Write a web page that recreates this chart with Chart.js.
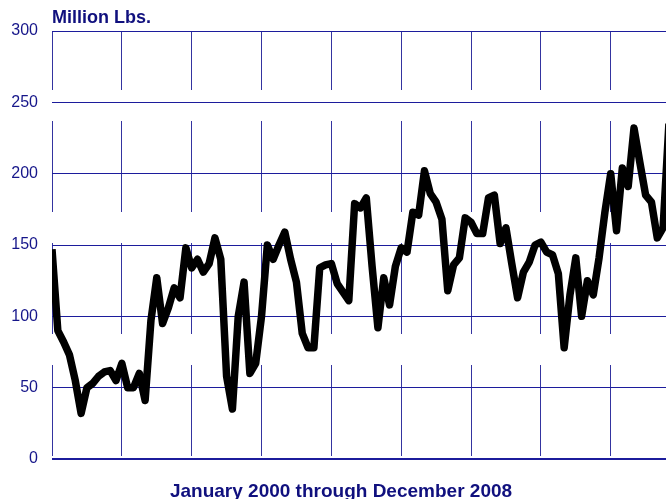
<!DOCTYPE html>
<html>
<head>
<meta charset="utf-8">
<script src="https://cdn.jsdelivr.net/npm/chart.js@4"></script>
<style>
  html, body { margin: 0; padding: 0; background: #ffffff; }
  #wrap { width: 666px; height: 499px; }
</style>
</head>
<body>
<div id="wrap"><canvas id="exports-chart"></canvas></div>
<script>
// Monthly values, million lbs
let y2000 = [147, 90, 82, 73, 55, 32, 50, 53, 58, 61, 62, 55];
let y2001 = [67, 50, 50, 60, 41, 97, 127, 95, 106, 120, 113, 148];
let y2002 = [134, 140, 131, 137, 155, 140, 58, 35, 100, 124, 60, 67];
let y2003 = [100, 150, 140, 150, 159, 140, 124, 88, 78, 78, 134, 136];
let y2004 = [137, 123, 117, 111, 179, 176, 183, 135, 92, 127, 108, 135];
let y2005 = [148, 145, 173, 171, 202, 186, 180, 168, 118, 136, 141, 169];
let y2006 = [166, 158, 158, 183, 185, 151, 162, 137, 113, 131, 138, 150];
let y2007 = [152, 145, 143, 130, 78, 115, 141, 100, 125, 115, 141, 173];
let y2008 = [200, 160, 204, 191, 232, 208, 185, 180, 155, 162, 235, 230];

let years = [2000, 2001, 2002, 2003, 2004, 2005, 2006, 2007, 2008];
let monthNames = ['Jan', 'Feb', 'Mar', 'Apr', 'May', 'Jun', 'Jul', 'Aug', 'Sep', 'Oct', 'Nov', 'Dec'];
let yTicks = [0, 50, 100, 150, 200, 250, 300];

let yAxisTitle = 'Million Lbs.';
let xAxisTitle = 'January 2000 through December 2008';

const navy = '#16168a';
const fontFamily = '"Liberation Sans", Arial, Helvetica, sans-serif';

// month index -> value
let allYears = [y2000, y2001, y2002, y2003, y2004, y2005, y2006, y2007, y2008];
let points = [];
allYears.forEach((vals, yi) => {
    vals.forEach((v, mi) => {
        points.push({ x: yi * 12 + mi, y: v, label: monthNames[mi] + ' ' + years[yi] });
    });
});

// Draws the two free-standing captions
const captionPlugin = {
    id: 'captions',
    afterDraw(chart) {
        const ctx = chart.ctx;
        const area = chart.chartArea;
        ctx.save();
        ctx.fillStyle = '#10107e';
        ctx.textBaseline = 'alphabetic';
        ctx.font = 'bold 18px ' + fontFamily;
        ctx.textAlign = 'left';
        ctx.fillText(yAxisTitle, area.left, 23);
        ctx.font = 'bold 19px ' + fontFamily;
        ctx.textAlign = 'center';
        ctx.fillText(xAxisTitle, 341, 497);
        ctx.restore();
    }
};

new Chart(document.getElementById('exports-chart').getContext('2d'), {
    type: 'line',
    data: {
        datasets: [{
            label: yAxisTitle,
            data: points,
            borderColor: '#000000',
            borderWidth: 7.5,
            borderJoinStyle: 'round',
            pointRadius: 0,
            tension: 0
        }]
    },
    options: {
        responsive: true,
        maintainAspectRatio: false,
        animation: false,
        layout: { padding: { top: 31, bottom: 40, left: 0, right: 0 } },
        plugins: {
            legend: { display: false },
            tooltip: { enabled: false }
        },
        scales: {
            x: {
                type: 'linear',
                min: 0,
                max: 105.5,
                afterFit: (scale) => { scale.height = 0; },
                ticks: { display: false, stepSize: 12, includeBounds: false },
                grid: {
                    color: '#3434a0',
                    lineWidth: 1,
                    drawTicks: false
                },
                border: { display: false, dash: [91, 31], dashOffset: 32 }
            },
            y: {
                min: 0,
                max: 300,
                afterFit: (scale) => { scale.width = 52; },
                afterBuildTicks: (scale) => { scale.ticks = yTicks.map(v => ({ value: v })); },
                ticks: {
                    color: navy,
                    padding: 14,
                    font: { family: fontFamily, size: 16 }
                },
                grid: {
                    color: '#1c1c9c',
                    lineWidth: (c) => (c.tick && c.tick.value === 0 ? 2 : 1),
                    drawTicks: false
                },
                border: { display: false }
            }
        }
    },
    plugins: [captionPlugin]
});
</script>
</body>
</html>
